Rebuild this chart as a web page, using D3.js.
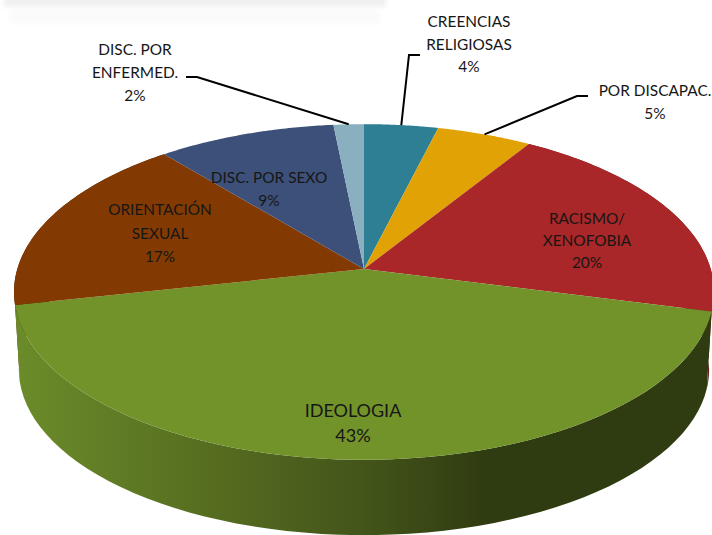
<!DOCTYPE html>
<html><head><meta charset="utf-8">
<script src="https://cdn.jsdelivr.net/npm/d3@7"></script>
<style>html,body{margin:0;padding:0;background:#fff}svg{display:block}text{font-family:Lato,"Open Sans",sans-serif;fill:#161616}</style>
</head><body><svg id="c" width="712" height="535"></svg>
<script>
const categories=["CREENCIAS RELIGIOSAS","POR DISCAPAC.","RACISMO/ XENOFOBIA","IDEOLOGIA","ORIENTACIÓN SEXUAL","DISC. POR SEXO","DISC. POR ENFERMED."];
const labelLines=[["CREENCIAS","RELIGIOSAS"],["POR DISCAPAC."],["RACISMO/","XENOFOBIA"],["IDEOLOGIA"],["ORIENTACIÓN","SEXUAL"],["DISC. POR SEXO"],["DISC. POR","ENFERMED."]];
const values=[3.9,5.0,20.1,42.6,17.4,9.4,1.6];
const colors=["#2e7f93","#e0a204","#a92728","#72932a","#833a02","#3c5079","#8aafbf"];
const labelPos=[[469,27],[655,96],[587,224],[353,417],[160,215],[269,183],[135,55]];
const labelSize=[15.4,15.4,15.4,18,15.4,15.4,15.4];
const labelLead=[22.7,23,22,25,23.5,23,23];
const leaders=[[[0.5,1],[409,55],[420,55]],[[0.5,1],[577,96],[588,96]],null,null,null,null,[[0.5,1],[197,77],[186,77]]];

const svg=d3.select("#c");
const cx=364,cy=269,R=346.7,tilt=.475,persp=.137,depth=78,shrink=.986;
const proj=(a,f=1,d=0)=>{const u=Math.sin(a),v=-Math.cos(a),s=1/(1-persp*v);
  return [cx+R*u*s*f, cy+R*tilt*v*s*f+d];};
const arcs=d3.pie().sort(null).value(d=>d)(values);
const rim=(a0,a1)=>d3.range(0,61).map(i=>a0+(a1-a0)*i/60);
const line=d3.line();

const defs=svg.append("defs");
const grad=defs.append("linearGradient").attr("id","g").attr("gradientUnits","userSpaceOnUse")
  .attr("x1",14).attr("x2",712).attr("y1",0).attr("y2",0);
[[0,"#6b8c2a"],[.28,"#566d20"],[.5,"#43551a"],[.68,"#2f3b10"],[1,"#2f3b10"]].forEach(([o,c])=>grad.append("stop").attr("offset",o).attr("stop-color",c));
const blur=defs.append("filter").attr("id","b").attr("x","-5%").attr("y","-60%").attr("width","110%").attr("height","220%");
blur.append("feGaussianBlur").attr("stdDeviation",2);

// faint smudge left at the top of the picture
svg.append("rect").attr("x",4).attr("y",-3).attr("width",382).attr("height",10).attr("fill","#f0f0f0").attr("filter","url(#b)");
svg.append("rect").attr("x",10).attr("y",10).attr("width",370).attr("height",14).attr("fill","#fbfbfb").attr("filter","url(#b)");

// side walls: back to front
[2,4,3].forEach(i=>{const d=arcs[i],pts=rim(d.startAngle,d.endAngle);
  const p=[...pts.map(a=>proj(a)),...pts.slice().reverse().map(a=>proj(a,shrink,depth))];
  svg.append("path").attr("d",line(p)+"Z").attr("fill",i==3?"url(#g)":d3.color(colors[i]).darker(1.2));
});
// top faces
arcs.forEach((d,i)=>{
  const p=[[cx,cy],...rim(d.startAngle,d.endAngle).map(a=>proj(a))];
  svg.append("path").attr("d",line(p)+"Z").attr("fill",colors[i]);
});
// leaders
arcs.forEach((d,i)=>{ if(!leaders[i])return;
  const [[t],...rest]=leaders[i];
  const start=proj(d.startAngle+(d.endAngle-d.startAngle)*t);
  svg.append("path").attr("d",line([start,...rest])).attr("fill","none").attr("stroke","#000").attr("stroke-width",2);
});
// labels
arcs.forEach((d,i)=>{
  const t=svg.append("text").attr("text-anchor","middle").attr("x",labelPos[i][0]).attr("y",labelPos[i][1]).style("font-size",labelSize[i]+"px");
  const lines=[...labelLines[i],Math.round(d.data)+"%"];
  lines.forEach((s,k)=>t.append("tspan").attr("x",labelPos[i][0]).attr("dy",k?labelLead[i]:0).text(s));
});
</script></body></html>
